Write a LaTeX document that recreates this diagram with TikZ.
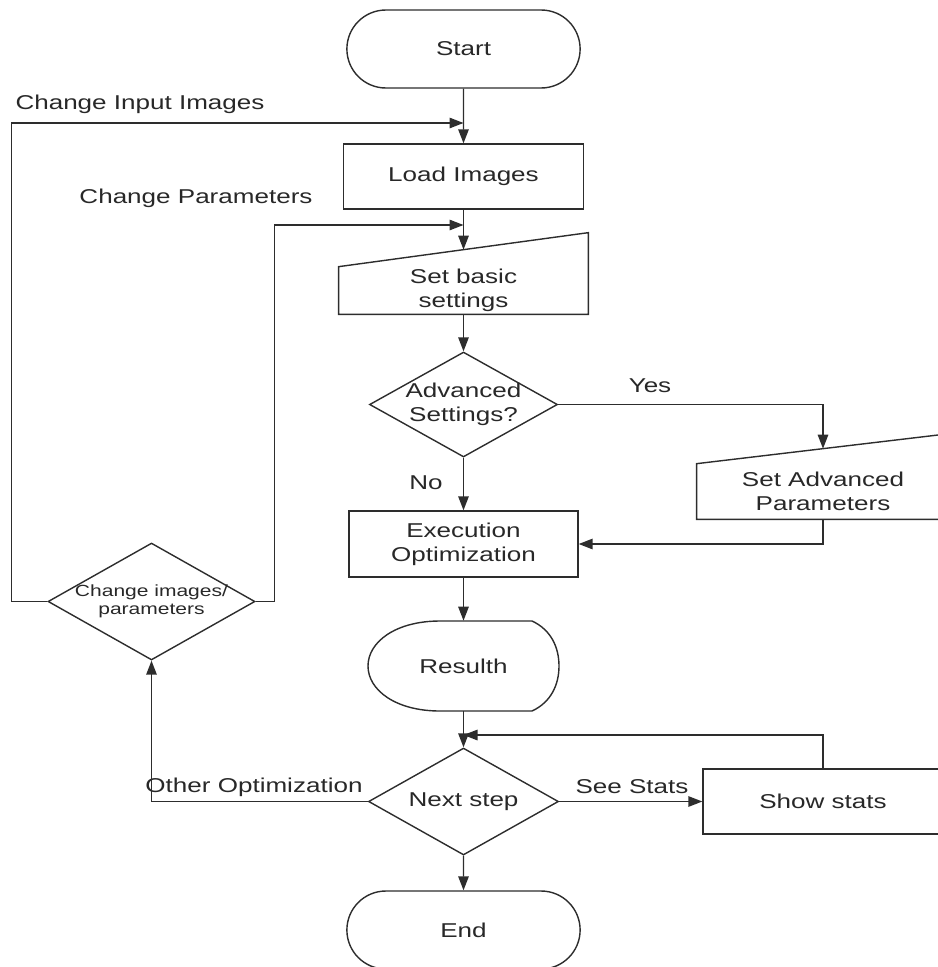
\documentclass[tikz,border=0pt]{standalone}
\usepackage{fontspec}
\setmainfont{Liberation Sans}[FakeStretch=1.3]
\usepackage{tikz}
\usetikzlibrary{arrows.meta,shapes.geometric,shapes.misc}
\definecolor{linegray}{RGB}{45,45,45}
\definecolor{textgray}{RGB}{40,40,40}

\begin{document}
\begin{tikzpicture}[x=0.02cm,y=-0.02cm,
    every node/.style={font=\fontsize{11.4}{13.5}\selectfont,text=textgray},
    term/.style={rounded rectangle,draw=linegray,line width=0.8pt,minimum width=4.9cm,minimum height=1.56cm},
    proc/.style={rectangle,draw=linegray,line width=0.8pt,align=center},
    manual/.style={rectangle,inner sep=1pt,align=center},
    decision/.style={diamond,draw=linegray,line width=0.8pt,inner sep=0pt},
    lbl/.style={inner sep=1pt,align=center},
    outline/.style={draw=linegray,line width=0.8pt},
    arrow/.style={-{Triangle[length=2.8mm,width=2.1mm]},line width=0.8pt,draw=linegray}
  ]
    \useasboundingbox (0,0) rectangle (937,967);
    % main column
    \node[term] (start) at (463.5,49) {Start};
    \node[proc,minimum width=4.8cm,minimum height=1.3cm] (load) at (463.5,176.5) {Load Images};
    \node[manual,minimum width=4.98cm,minimum height=0.94cm] (basic) at (463.5,290.5) {Set basic\\settings};
    \draw[outline] (basic.south west) -- (basic.south east) -- ([yshift=0.68cm]basic.north east) -- (basic.north west) -- cycle;
    \coordinate (basictop) at ([yshift=0.34cm]basic.north);
    \node[decision,minimum width=3.76cm,minimum height=2.1cm,label={[lbl]center:{Advanced\\Settings?}}] (adv) at (463.5,404.5) {};
    \node[proc,minimum width=4.58cm,minimum height=1.32cm] (exec) at (463.5,544) {Execution\\Optimization};
    \node[lbl,minimum width=3.82cm,minimum height=1.8cm] (result) at (463.5,666) {Resulth};
    \draw[outline,shift={(result.center)}] (-23.5,-45) -- (68.5,-45) .. controls (88,-36) and (95.5,-18) .. (95.5,0)
      .. controls (95.5,18) and (88,36) .. (68.5,45) -- (-23.5,45) .. controls (-68,45) and (-95.5,24) .. (-95.5,0)
      .. controls (-95.5,-24) and (-68,-45) .. (-23.5,-45) -- cycle;
    \node[decision,minimum width=3.8cm,minimum height=2.14cm,label={[lbl]center:Next step}] (next) at (463.5,801.5) {};
    \node[term] (end) at (463.5,930) {End};
    % side nodes
    \node[manual,minimum width=5.04cm,minimum height=1.1cm] (advset) at (823,491.5) {Set Advanced\\Parameters};
    \draw[outline] (advset.south west) -- (advset.south east) -- ([yshift=0.6cm]advset.north east) -- (advset.north west) -- cycle;
    \coordinate (advtop) at ([yshift=0.3cm]advset.north);
    \node[proc,minimum width=4.8cm,minimum height=1.3cm] (stats) at (823,801.5) {Show stats};
    \node[decision,minimum width=4.14cm,minimum height=2.34cm,label={[lbl,font=\fontsize{9.2}{10.5}\selectfont]center:{Change images/\\parameters}}] (chg) at (151.5,601.5) {};
    % labels
    \node[lbl] (inlbl) at (140,104) {Change Input Images};
    \node[lbl] (parlbl) at (196,198) {Change Parameters};
    \node[lbl] (yeslbl) at (650,386) {Yes};
    \node[lbl] (nolbl) at (426,483) {No};
    \node[lbl] (otherlbl) at (254,787) {Other Optimization};
    \node[lbl] (seelbl) at (632,787) {See Stats};
    % connectors
    \coordinate (imgjoin) at (463.5,123);
    \coordinate (parjoin) at (463.5,225);
    \coordinate (statsjoin) at (463.5,735);
    \draw[arrow] (start) -- (load);
    \draw[arrow] (load) -- (basictop);
    \draw[arrow] (basic) -- (adv);
    \draw[arrow] (adv) -- (exec);
    \draw[arrow] (adv.east) -| (advtop);
    \draw[arrow] (advset.south) |- (exec.east);
    \draw[arrow] (exec) -- (result);
    \draw[arrow] (result) -- (next);
    \draw[arrow] (next.east) -- (stats.west);
    \draw[arrow] (stats.north) |- (statsjoin);
    \draw[arrow] (next.west) -| (chg.south);
    \draw[arrow] (chg.west) -- ++(-36,0) |- (imgjoin);
    \draw[arrow] (chg.east) -- ++(19,0) |- (parjoin);
    \draw[arrow] (next) -- (end);
  \end{tikzpicture}
\end{document}
